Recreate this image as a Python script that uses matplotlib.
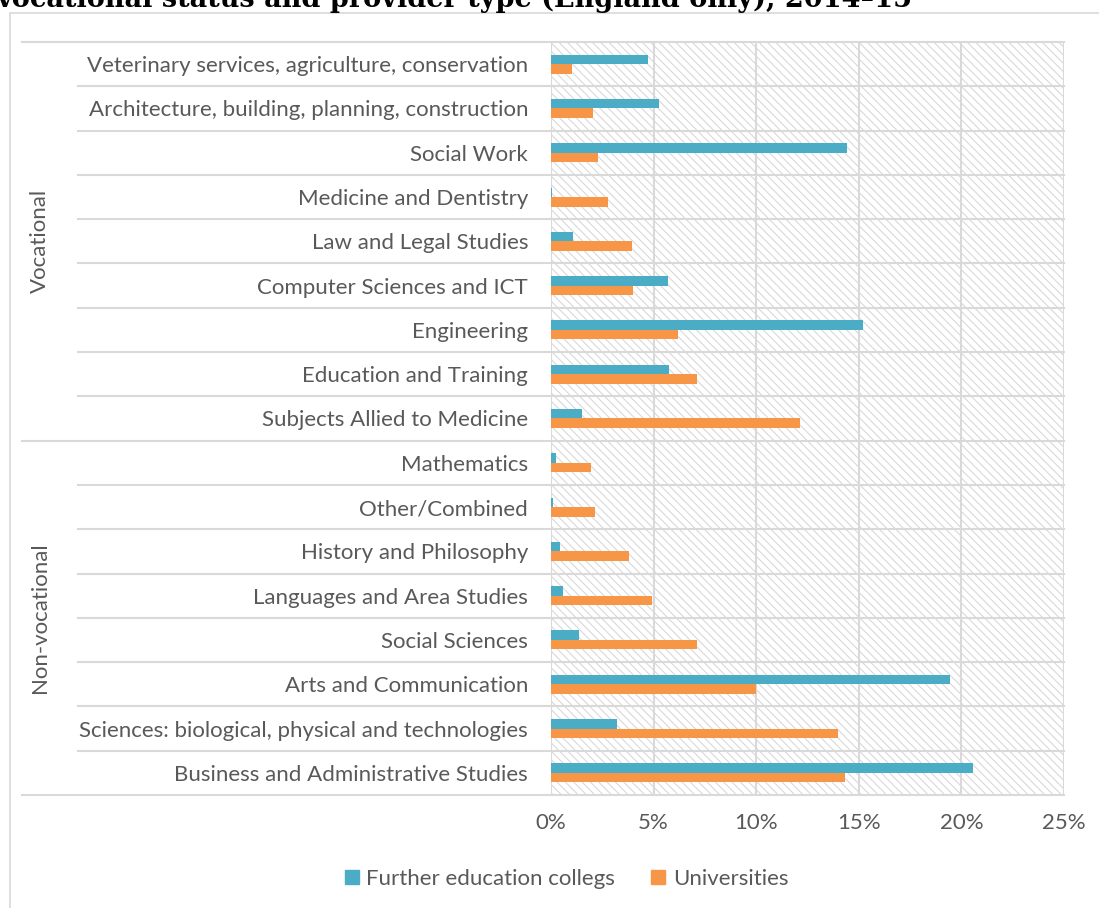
import numpy as np
import matplotlib.pyplot as plt
from matplotlib.patches import Rectangle
from matplotlib.lines import Line2D
from matplotlib import transforms

# subject areas, listed bottom to top
subjects = ['Business and Administrative Studies',
            'Sciences: biological, physical and technologies',
            'Arts and Communication',
            'Social Sciences',
            'Languages and Area Studies',
            'History and Philosophy',
            'Other/Combined',
            'Mathematics',
            'Subjects Allied to Medicine',
            'Education and Training',
            'Engineering',
            'Computer Sciences and ICT',
            'Law and Legal Studies',
            'Medicine and Dentistry',
            'Social Work',
            'Architecture, building, planning, construction',
            'Veterinary services, agriculture, conservation']

# share of students (%)
fe_colleges = [20.57, 3.22, 19.45, 1.35, 0.6, 0.46, 0.1, 0.26,
               1.53, 5.75, 15.2, 5.7, 1.08, 0.05, 14.43, 5.27, 4.71]
universities = [14.32, 13.97, 9.97, 7.1, 4.9, 3.8, 2.12, 1.97,
                12.15, 7.1, 6.2, 4.0, 3.95, 2.79, 2.28, 2.07, 1.03]

groups = ['Non-vocational', 'Vocational']
group_rows = [(0, 7), (8, 16)]
xticks = [0, 5, 10, 15, 20, 25]

W, H = 1099, 908
grey_txt = '#595959'
grid_c = '#d9d9d9'
teal = '#4bacc6'
orange = '#f79646'
fs = 16

plt.rcParams['font.family'] = ['Lato', 'DejaVu Sans']
plt.rcParams['hatch.linewidth'] = 0.7
plt.rcParams['hatch.color'] = '#d4d4d4'

fig = plt.figure(figsize=(W / 100, H / 100), dpi=100)
left, right, top, bottom = 551, 1064, 42, 795
ax = fig.add_axes([left / W, 1 - bottom / H, (right - left) / W, (bottom - top) / H])

# outer chart frame
fig.patches.append(Rectangle((10 / W, -0.1), 1.2, 1.1 - 13 / H, transform=fig.transFigure,
                             facecolor='none', edgecolor=grid_c, lw=1.2, zorder=0))

# hatched plot background
ax.add_patch(Rectangle((0, 0), 1, 1, transform=ax.transAxes, facecolor='white',
                       edgecolor='#d4d4d4', hatch='\\\\\\\\', lw=0, zorder=0))

y = np.arange(len(subjects))
bh = 0.215
ax.barh(y + bh / 2, fe_colleges, height=bh, color=teal, zorder=3)
ax.barh(y - bh / 2, universities, height=bh, color=orange, zorder=3)

ax.set_xlim(0, 25)
ax.set_ylim(-0.5, len(subjects) - 0.5)
ax.set_xticks(xticks)
ax.set_xticklabels([f'{t}%' for t in xticks])
ax.set_yticks(y)
ax.set_yticklabels(subjects)
ax.tick_params(axis='y', length=0, pad=16.5, labelsize=fs, labelcolor=grey_txt)
ax.tick_params(axis='x', length=0, pad=13, labelsize=fs, labelcolor=grey_txt)
for s in ax.spines.values():
    s.set_visible(False)

for t in xticks:
    ax.axvline(t, color=grid_c, lw=1.5, zorder=1)

# row separators running into the label area
blend = transforms.blended_transform_factory(fig.transFigure, ax.transData)
group_edges = [-0.5, 7.5, len(subjects) - 0.5]
for yy in np.arange(-0.5, len(subjects)):
    x0 = 22 / W if yy in group_edges else 78 / W
    ax.plot([x0, right / W], [yy, yy], color=grid_c, lw=1.5, transform=blend,
            clip_on=False, zorder=1)

for name, (r0, r1) in zip(groups, group_rows):
    fig.text(40 / W, (r0 + r1) / 2, name, transform=blend, rotation=90,
             ha='center', va='center', fontsize=fs, color=grey_txt)

fig.text(-4 / W, 1 - 7 / H,
         'vocational status and provider type (England only), 2014\u201315',
         family='DejaVu Serif', fontweight='bold', fontsize=19.5, va='baseline')

handles = [Line2D([], [], marker='s', ls='none', color=teal, markersize=10),
           Line2D([], [], marker='s', ls='none', color=orange, markersize=10)]
fig.legend(handles, ['Further education collegs', 'Universities'], loc='center',
           bbox_to_anchor=(566 / W, 1 - 879 / H), ncol=2, frameon=False,
           fontsize=fs, labelcolor=grey_txt, handlelength=0.7,
           handletextpad=0.3, columnspacing=1.6)

fig.savefig('out.png', dpi=100)
